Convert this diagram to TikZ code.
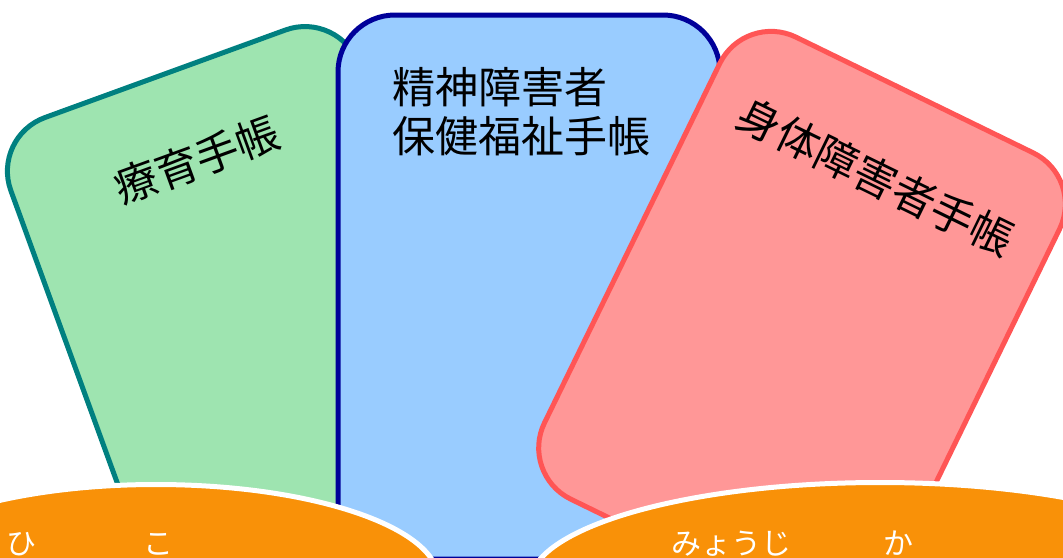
\documentclass[tikz,border=0pt]{standalone}
\usepackage{fontspec}
\usepackage{tikz}
\usetikzlibrary{shapes.geometric, positioning, calc}
\newfontfamily\jpfont{Noto Sans CJK JP}
\definecolor{ryoikuFill}{RGB}{158,228,176}
\definecolor{ryoikuLine}{RGB}{0,128,128}
\definecolor{seishinFill}{RGB}{153,204,255}
\definecolor{seishinLine}{RGB}{0,0,153}
\definecolor{shintaiFill}{RGB}{255,151,151}
\definecolor{shintaiLine}{RGB}{255,85,85}
\definecolor{plateOrange}{RGB}{249,145,8}

\begin{document}
\begin{tikzpicture}[x=1pt, y=-1pt,
    card/.style={rectangle, draw, line width=5pt, rounded corners=57pt, minimum width=370pt, minimum height=490pt, inner sep=0pt},
    cardtext/.style={font=\jpfont\fontsize{43}{49}\selectfont, text=black, inner sep=0pt},
    plate/.style={ellipse, draw=white, line width=5pt, fill=plateOrange, inner sep=0pt},
    kana/.style={font=\jpfont\fontsize{30}{32}\selectfont, text=white, inner sep=0pt, anchor=base}
]
\useasboundingbox (0,0) rectangle (1063,557);
\clip (0,0) rectangle (1063,557);

% cards
\node[card, fill=ryoikuFill, draw=ryoikuLine, rotate=20] (ryoiku) at (249,304) {};
\node[card, fill=seishinFill, draw=seishinLine, minimum width=382pt, minimum height=544pt] (seishin) at (529,287) {};
\node[card, fill=shintaiFill, draw=shintaiLine, rotate=-26, minimum width=378pt, minimum height=514pt] (shintai) at (802,326) {};

\node[cardtext, rotate=20] (ryoikuLabel) at (197,160) {療育手帳};
\node[cardtext, align=left] (seishinLabel) at (521,112) {精神障害者\\保健福祉手帳};
\node[cardtext, rotate=-26] (shintaiLabel) at (876,177) {身体障害者手帳};

% name plates
\node[plate, minimum width=565pt, minimum height=191pt] (leftPlate) at (156,580) {};
\node[plate, minimum width=701pt, minimum height=203pt] (rightPlate) at (880,584) {};

\node[kana] (hiKana) at (21,554) {ひ};
\node[kana] (koKana) at (158,554) {こ};
\node[kana] (myojiKana) at (731,554) {みょうじ};
\node[kana] (kaKana) at (898,554) {か};
\end{tikzpicture}
\end{document}
